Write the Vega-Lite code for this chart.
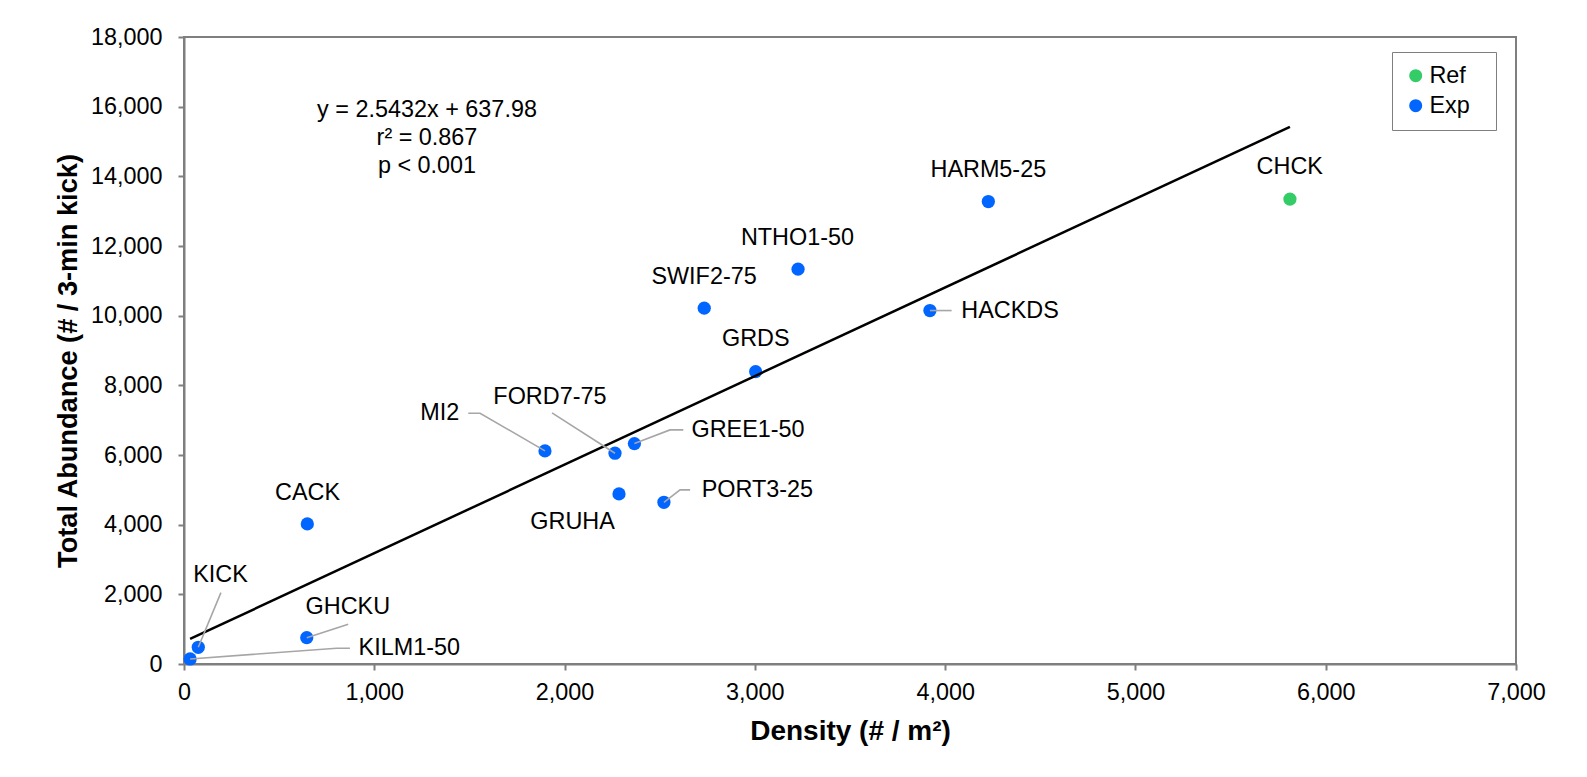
{
  "$schema": "https://vega.github.io/schema/vega-lite/v6.json",
  "width": 1332,
  "height": 627,
  "autosize": {"type": "none"},
  "padding": {"left": 184, "top": 37, "right": 71, "bottom": 113},
  "background": "white",
  "config": {
    "font": "Liberation Sans",
    "view": {"stroke": "#7f7f7f", "strokeWidth": 2},
    "axis": {
      "grid": false,
      "labelFont": "Liberation Sans",
      "labelFontSize": 23.4,
      "labelColor": "#000000",
      "labelFlush": false,
      "domainColor": "#7f7f7f",
      "domainWidth": 2,
      "tickColor": "#7f7f7f",
      "tickWidth": 2,
      "tickSize": 6,
      "titleFont": "Liberation Sans",
      "titleFontWeight": "bold",
      "titleColor": "#000000",
      "labelOverlap": false
    },
    "text": {"font": "Liberation Sans"}
  },
  "datasets": {
    "sites": [
      {"site": "KILM1-50", "x": 32, "y": 144, "group": "Exp"},
      {"site": "KICK", "x": 75, "y": 480, "group": "Exp"},
      {"site": "GHCKU", "x": 645, "y": 756, "group": "Exp"},
      {"site": "CACK", "x": 648, "y": 4021, "group": "Exp"},
      {"site": "MI2", "x": 1897, "y": 6117, "group": "Exp"},
      {"site": "FORD7-75", "x": 2265, "y": 6051, "group": "Exp"},
      {"site": "GRUHA", "x": 2286, "y": 4882, "group": "Exp"},
      {"site": "GREE1-50", "x": 2367, "y": 6327, "group": "Exp"},
      {"site": "PORT3-25", "x": 2522, "y": 4643, "group": "Exp"},
      {"site": "SWIF2-75", "x": 2734, "y": 10215, "group": "Exp"},
      {"site": "GRDS", "x": 3004, "y": 8395, "group": "Exp"},
      {"site": "NTHO1-50", "x": 3227, "y": 11336, "group": "Exp"},
      {"site": "HACKDS", "x": 3920, "y": 10147, "group": "Exp"},
      {"site": "HARM5-25", "x": 4227, "y": 13277, "group": "Exp"},
      {"site": "CHCK", "x": 5812, "y": 13346, "group": "Ref"}
    ],
    "fit": [
      {"x": 32, "y": 719},
      {"x": 5812, "y": 15419}
    ],
    "leaders": [
      {"id": "KICK", "seq": 1, "x": 75, "y": 480},
      {"id": "KICK", "seq": 2, "x": 194, "y": 2048},
      {"id": "GHCKU", "seq": 1, "x": 645, "y": 756},
      {"id": "GHCKU", "seq": 2, "x": 863, "y": 1140},
      {"id": "KILM1-50", "seq": 1, "x": 32, "y": 144},
      {"id": "KILM1-50", "seq": 2, "x": 802, "y": 451},
      {"id": "KILM1-50", "seq": 3, "x": 872, "y": 451},
      {"id": "MI2", "seq": 1, "x": 1897, "y": 6117},
      {"id": "MI2", "seq": 2, "x": 1556, "y": 7200},
      {"id": "MI2", "seq": 3, "x": 1494, "y": 7200},
      {"id": "FORD7-75", "seq": 1, "x": 2265, "y": 6051},
      {"id": "FORD7-75", "seq": 2, "x": 1934, "y": 7208},
      {"id": "GREE1-50", "seq": 1, "x": 2367, "y": 6327},
      {"id": "GREE1-50", "seq": 2, "x": 2554, "y": 6720},
      {"id": "GREE1-50", "seq": 3, "x": 2624, "y": 6720},
      {"id": "PORT3-25", "seq": 1, "x": 2522, "y": 4643},
      {"id": "PORT3-25", "seq": 2, "x": 2607, "y": 5000},
      {"id": "PORT3-25", "seq": 3, "x": 2660, "y": 5000},
      {"id": "HACKDS", "seq": 1, "x": 3920, "y": 10147},
      {"id": "HACKDS", "seq": 2, "x": 4034, "y": 10147}
    ],
    "labels": [
      {"site": "KILM1-50", "x": 1184, "y": 451},
      {"site": "KICK", "x": 192, "y": 2556},
      {"site": "GHCKU", "x": 861, "y": 1646},
      {"site": "CACK", "x": 649, "y": 4920},
      {"site": "MI2", "x": 1344, "y": 7200},
      {"site": "FORD7-75", "x": 1923, "y": 7677},
      {"site": "GREE1-50", "x": 2964, "y": 6720},
      {"site": "GRUHA", "x": 2042, "y": 4087},
      {"site": "PORT3-25", "x": 3013, "y": 4997},
      {"site": "SWIF2-75", "x": 2733, "y": 11123},
      {"site": "GRDS", "x": 3005, "y": 9325},
      {"site": "NTHO1-50", "x": 3224, "y": 12226},
      {"site": "HACKDS", "x": 4341, "y": 10138},
      {"site": "HARM5-25", "x": 4227, "y": 14187},
      {"site": "CHCK", "x": 5811, "y": 14282}
    ],
    "stats": [
      {"text": "y = 2.5432x + 637.98", "x": 1277, "y": 15910},
      {"text": "r² = 0.867", "x": 1277, "y": 15098},
      {"text": "p < 0.001", "x": 1277, "y": 14311}
    ]
  },
  "layer": [
    {
      "data": {"name": "sites"},
      "mark": {"type": "circle", "size": 175, "opacity": 1},
      "encoding": {
        "x": {
          "field": "x", "type": "quantitative", "title": "Density (# / m²)",
          "scale": {"domain": [0, 7000], "nice": false, "zero": false},
          "axis": {"values": [0, 1000, 2000, 3000, 4000, 5000, 6000, 7000], "format": ",d", "labelPadding": 11, "titlePadding": 14, "titleFontSize": 28}
        },
        "y": {
          "field": "y", "type": "quantitative", "title": "Total Abundance (# / 3-min kick)",
          "scale": {"domain": [0, 18000], "nice": false, "zero": false},
          "axis": {"values": [0, 2000, 4000, 6000, 8000, 10000, 12000, 14000, 16000, 18000], "format": ",d", "labelPadding": 16, "titlePadding": 8, "titleY": 323.5, "titleFontSize": 27.2}
        },
        "color": {
          "field": "group", "type": "nominal",
          "scale": {"domain": ["Ref", "Exp"], "range": ["#33cc66", "#0066ff"]},
          "legend": {
            "title": "\u00a0",
            "titleOrient": "right",
            "titleFontSize": 8,
            "titlePadding": 14,
            "orient": "none",
            "legendX": 1208,
            "legendY": 15,
            "padding": 12,
            "strokeColor": "#7f7f7f",
            "fillColor": "#ffffff",
            "symbolType": "circle",
            "symbolSize": 170,
            "symbolStrokeWidth": 0,
            "labelFontSize": 23.4,
            "labelFont": "Liberation Sans",
            "labelColor": "#000000",
            "labelOffset": 2,
            "rowPadding": 5
          }
        }
      }
    },
    {
      "data": {"name": "fit"},
      "mark": {"type": "line", "color": "#000000", "strokeWidth": 2.5},
      "encoding": {
        "x": {"field": "x", "type": "quantitative", "title": "Density (# / m²)"},
        "y": {"field": "y", "type": "quantitative", "title": "Total Abundance (# / 3-min kick)"}
      }
    },
    {
      "data": {"name": "leaders"},
      "mark": {"type": "line", "color": "#a6a6a6", "strokeWidth": 1.6},
      "encoding": {
        "x": {"field": "x", "type": "quantitative", "title": "Density (# / m²)"},
        "y": {"field": "y", "type": "quantitative", "title": "Total Abundance (# / 3-min kick)"},
        "detail": {"field": "id", "type": "nominal"},
        "order": {"field": "seq", "type": "quantitative"}
      }
    },
    {
      "data": {"name": "labels"},
      "mark": {"type": "text", "align": "center", "baseline": "middle", "fontSize": 23.4, "color": "#000000"},
      "encoding": {
        "x": {"field": "x", "type": "quantitative", "title": "Density (# / m²)"},
        "y": {"field": "y", "type": "quantitative", "title": "Total Abundance (# / 3-min kick)"},
        "text": {"field": "site", "type": "nominal"}
      }
    },
    {
      "data": {"name": "stats"},
      "mark": {"type": "text", "align": "center", "baseline": "middle", "fontSize": 23.4, "color": "#000000"},
      "encoding": {
        "x": {"field": "x", "type": "quantitative", "title": "Density (# / m²)"},
        "y": {"field": "y", "type": "quantitative", "title": "Total Abundance (# / 3-min kick)"},
        "text": {"field": "text", "type": "nominal"}
      }
    }
  ]
}
